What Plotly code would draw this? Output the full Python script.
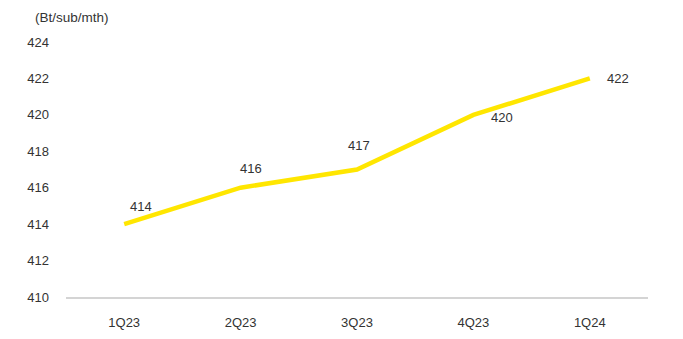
import plotly.graph_objects as go

categories = ["1Q23", "2Q23", "3Q23", "4Q23", "1Q24"]
values = [414, 416, 417, 420, 422]
label_text = ["414", "416", "417", "420", "422"]
y_ticks = [410, 412, 414, 416, 418, 420, 422, 424]

label_shift = [(17, 18), (10, 19), (2, 24), (29, -3), (28, 0)]

fig = go.Figure()
fig.add_trace(go.Scatter(
    x=categories, y=values, mode="lines",
    line=dict(color="#FFE600", width=4.5), hoverinfo="skip"))

for c, v, t, (dx, dy) in zip(categories, values, label_text, label_shift):
    fig.add_annotation(x=c, y=v, text=t, showarrow=False, xshift=dx, yshift=dy,
                       font=dict(size=13, color="#333333"))

fig.add_annotation(xref="paper", yref="paper", x=-0.057, y=1.0, yshift=25,
                   xanchor="left", yanchor="middle", text="(Bt/sub/mth)",
                   showarrow=False, font=dict(size=13.5, color="#333333"))

fig.update_layout(
    width=683, height=339,
    margin=dict(l=66, r=35, t=42, b=42),
    paper_bgcolor="white", plot_bgcolor="white",
    font=dict(family="Liberation Sans, Arial, sans-serif", size=13, color="#333333"),
    showlegend=False,
    xaxis=dict(type="category", range=[-0.5, 4.5], showgrid=False,
               showline=True, linecolor="#D4D4D4", linewidth=2,
               ticks="", ticklabelstandoff=12, fixedrange=True, automargin=False),
    yaxis=dict(range=[410, 424], tickvals=y_ticks, showgrid=False,
               zeroline=False, showline=False, ticks="",
               ticklabelstandoff=16, fixedrange=True, automargin=False),
)

fig.write_html("out.html")
